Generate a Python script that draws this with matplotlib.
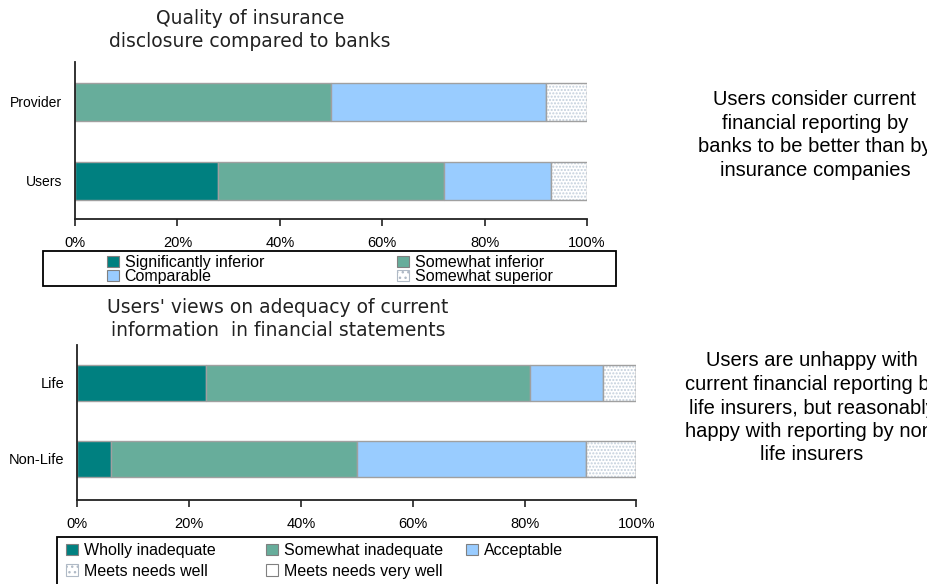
import numpy as np
import matplotlib.pyplot as plt
from matplotlib.patches import Patch, Rectangle
from matplotlib.ticker import PercentFormatter

plt.rcParams['font.family'] = ['Liberation Sans', 'DejaVu Sans']

W, H = 928, 584

# top chart: insurance disclosure compared to banks
bank_groups = ['Users', 'Provider']
bank_labels = ['Significantly inferior', 'Somewhat inferior', 'Comparable', 'Somewhat superior']
significantly_inferior = [28, 0]
somewhat_inferior = [44, 50]
comparable = [21, 42]
somewhat_superior = [7, 8]

# bottom chart: adequacy of information in financial statements
adequacy_groups = ['Non-Life', 'Life']
adequacy_labels = ['Wholly inadequate', 'Somewhat inadequate', 'Acceptable',
                   'Meets needs well', 'Meets needs very well']
wholly_inadequate = [6, 23]
somewhat_inadequate = [44, 58]
acceptable = [41, 13]
meets_well = [9, 6]
meets_very_well = [0, 0]

TEAL = '#008080'
GREEN = '#67ad9b'
BLUE = '#99ccff'
EDGE = '#a0a0a0'
DOTS = '#c3cfdc'

# (face colour, hatch) for each segment
bank_styles = [(TEAL, None), (GREEN, None), (BLUE, None), ('white', '.....')]
adequacy_styles = [(TEAL, None), (GREEN, None), (BLUE, None), ('white', '.....'), ('white', None)]


def fx(px):
    return px / W


def fy(py):
    return 1 - py / H


def stacked(ax, groups, series, styles, height):
    y = np.arange(len(groups))
    left = np.zeros(len(groups))
    for vals, (color, hatch) in zip(series, styles):
        vals = np.asarray(vals, dtype=float)
        if hatch:
            ax.barh(y, vals, height, left=left, color=color, hatch=hatch,
                    edgecolor=DOTS, linewidth=0)
            ax.barh(y, vals, height, left=left, fill=False, edgecolor=EDGE, linewidth=1)
        else:
            ax.barh(y, vals, height, left=left, color=color, edgecolor=EDGE, linewidth=1)
        left += vals


def style_axis(ax, groups, ylim):
    ax.set_xlim(0, 100)
    ax.set_ylim(*ylim)
    ax.set_xticks(np.arange(0, 101, 20))
    ax.xaxis.set_major_formatter(PercentFormatter(xmax=100, decimals=0))
    ax.set_yticks(np.arange(len(groups)), groups)
    for s in ['top', 'right']:
        ax.spines[s].set_visible(False)
    for s in ['left', 'bottom']:
        ax.spines[s].set_color('#222222')
        ax.spines[s].set_linewidth(1.3)
    ax.tick_params(axis='x', direction='out', length=5, width=1.2, color='#222222',
                   pad=7, labelsize=10.5)
    ax.tick_params(axis='y', length=0, pad=9, labelsize=10)


def legend_column(handles, labels, x, y, fs, spacing):
    fig.legend(handles, labels, loc='upper left', bbox_to_anchor=(fx(x), fy(y)),
               bbox_transform=fig.transFigure, frameon=False, borderpad=0,
               borderaxespad=0, handlelength=0.75, handleheight=0.75,
               handletextpad=0.35, labelspacing=spacing,
               prop={'family': 'Liberation Sans', 'size': fs})


def legend_box(x0, y0, x1, y1):
    fig.add_artist(Rectangle((fx(x0), fy(y1)), (x1 - x0) / W, (y1 - y0) / H,
                             transform=fig.transFigure, fill=False,
                             edgecolor='black', linewidth=1.3))


def patch(color, hatch):
    if hatch:
        return Patch(facecolor=color, edgecolor='#b0bac6', hatch='...', linewidth=0.8)
    return Patch(facecolor=color, edgecolor='#808080', linewidth=0.8)


fig = plt.figure(figsize=(9.28, 5.84), dpi=100)

# top chart
ax1 = fig.add_axes([fx(75), fy(219), 512 / W, 157 / H])
stacked(ax1, bank_groups,
        [significantly_inferior, somewhat_inferior, comparable, somewhat_superior],
        bank_styles, 0.48)
style_axis(ax1, bank_groups, (-0.48, 1.5))
fig.text(fx(250), fy(30), 'Quality of insurance\ndisclosure compared to banks',
         ha='center', va='center', family='DejaVu Sans', fontsize=13.5,
         linespacing=1.25, color='#222222')

legend_box(43, 251, 616, 286)
bank_handles = [patch(c, h) for c, h in bank_styles]
legend_column([bank_handles[0], bank_handles[2]], [bank_labels[0], bank_labels[2]],
              107, 255, 11.5, -0.05)
legend_column([bank_handles[1], bank_handles[3]], [bank_labels[1], bank_labels[3]],
              397, 255, 11.5, -0.05)

# bottom chart
ax2 = fig.add_axes([fx(77), fy(500), 559.5 / W, 155 / H])
stacked(ax2, adequacy_groups,
        [wholly_inadequate, somewhat_inadequate, acceptable, meets_well, meets_very_well],
        adequacy_styles, 0.47)
style_axis(ax2, adequacy_groups, (-0.54, 1.5))
ax2.tick_params(axis='y', labelsize=10.5)
fig.text(fx(278), fy(319), "Users' views on adequacy of current\ninformation  in financial statements",
         ha='center', va='center', family='DejaVu Sans', fontsize=13.5,
         linespacing=1.25, color='#222222')

legend_box(57, 537, 657, 600)
adequacy_handles = [patch(c, h) for c, h in adequacy_styles]
legend_column([adequacy_handles[0], adequacy_handles[3]], [adequacy_labels[0], adequacy_labels[3]],
              66, 543, 11.5, 0.35)
legend_column([adequacy_handles[1], adequacy_handles[4]], [adequacy_labels[1], adequacy_labels[4]],
              266, 543, 11.5, 0.35)
legend_column([adequacy_handles[2]], [adequacy_labels[2]], 466, 543, 11.5, 0.35)

# commentary on the right
fig.text(fx(815), fy(135),
         'Users consider current\nfinancial reporting by\nbanks to be better than by\ninsurance companies',
         ha='center', va='center', fontsize=14.5, linespacing=1.3)
fig.text(fx(812), fy(408),
         'Users are unhappy with\ncurrent financial reporting by\nlife insurers, but reasonably\n'
         'happy with reporting by non-\nlife insurers',
         ha='center', va='center', fontsize=14.5, linespacing=1.3)

fig.savefig('out.png', dpi=100)
